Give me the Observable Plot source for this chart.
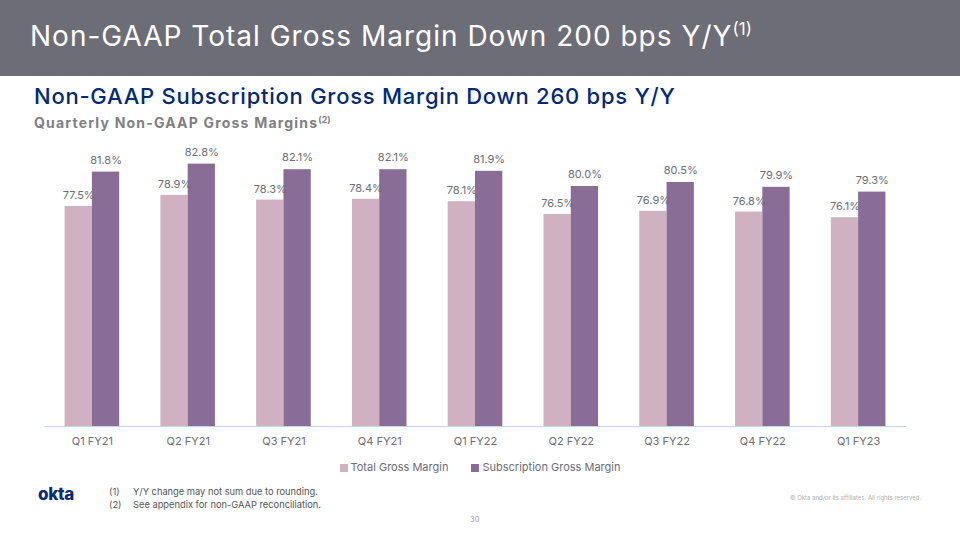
<!DOCTYPE html>
<html>
<head>
<meta charset="utf-8">
<script src="https://cdn.jsdelivr.net/npm/d3@7"></script>
<script src="https://cdn.jsdelivr.net/npm/@observablehq/plot@0.6"></script>
<style>
  html, body { margin: 0; padding: 0; background: #fff; }
  body { width: 960px; height: 540px; position: relative; overflow: hidden; font-family: "Inter", "Noto Sans", sans-serif; }
  .hdr { position: absolute; left: 0; top: 0; width: 960px; height: 76px; background: #6d6d78; }
  .title { position: absolute; left: 30px; top: 19px; color: #fff; font-size: 28px; font-weight: 400; white-space: nowrap; letter-spacing: 1px; }
  .title sup { font-size: 17px; vertical-align: 0; position: relative; top: -11px; letter-spacing: 0; }
  .sub { position: absolute; left: 34px; top: 83px; color: #00297a; font-size: 22px; font-weight: 500; white-space: nowrap; letter-spacing: 0.75px; }
  .sub2 { position: absolute; left: 34px; top: 114px; color: #808083; font-size: 14px; font-weight: 700; white-space: nowrap; letter-spacing: 1.2px; }
  .sub2 sup { font-size: 9px; vertical-align: 0; position: relative; top: -5px; letter-spacing: 0; }
  #chart { position: absolute; left: 0; top: 140px; }
  .legend { position: absolute; left: 0; width: 960px; top: 460px; text-align: center; font-size: 11px; color: #6d6d78; white-space: nowrap; }
  .legend span.sw { display: inline-block; width: 8px; height: 8px; margin-right: 3px; vertical-align: -0.5px; }
  .legend .item { margin: 0 10px; }
  .logo { position: absolute; left: 38px; top: 484px; color: #0a2a7a; font-size: 17px; font-weight: 800; letter-spacing: -0.3px; }
  .notes { position: absolute; left: 109px; top: 486px; font-size: 9.3px; color: #555; line-height: 12.8px; }
  .notes .n { display: inline-block; width: 24px; }
  .copy { position: absolute; left: 790px; top: 494px; font-size: 6px; color: #b0b0b0; white-space: nowrap; }
  .page { position: absolute; left: 470px; top: 515px; font-size: 7.5px; color: #a0a0a0; }
</style>
</head>
<body>
<div class="hdr"></div>
<div class="title">Non-GAAP Total Gross Margin Down 200 bps Y/Y<sup>(1)</sup></div>
<div class="sub">Non-GAAP Subscription Gross Margin Down 260 bps Y/Y</div>
<div class="sub2">Quarterly Non-GAAP Gross Margins<sup>(2)</sup></div>
<div id="chart"></div>
<div class="legend">
  <span class="item"><span class="sw" style="background:#d0b1c2"></span>Total Gross Margin</span>
  <span class="item"><span class="sw" style="background:#8a6d96"></span>Subscription Gross Margin</span>
</div>
<div class="logo">okta</div>
<div class="notes">
  <div><span class="n">(1)</span>Y/Y change may not sum due to rounding.</div>
  <div><span class="n">(2)</span>See appendix for non-GAAP reconciliation.</div>
</div>
<div class="copy">© Okta and/or its affiliates. All rights reserved.</div>
<div class="page">30</div>
<script>
const quarters = ["Q1 FY21","Q2 FY21","Q3 FY21","Q4 FY21","Q1 FY22","Q2 FY22","Q3 FY22","Q4 FY22","Q1 FY23"];
const totalMargin = [77.5, 78.9, 78.3, 78.4, 78.1, 76.5, 76.9, 76.8, 76.1];
const subscriptionMargin = [81.8, 82.8, 82.1, 82.1, 81.9, 80.0, 80.5, 79.9, 79.3];

const totalData = quarters.map((q, i) => ({quarter: q, value: totalMargin[i]}));
const subData = quarters.map((q, i) => ({quarter: q, value: subscriptionMargin[i]}));

const width = 960, marginLeft = 44, marginRight = 54;
const paddingInner = 0.43, paddingOuter = 0.215;
const step = (width - marginLeft - marginRight) / (quarters.length - paddingInner + 2 * paddingOuter);
const half = step * (1 - paddingInner) / 2;

const fmt = d => d.toFixed(1) + "%";

const chart = Plot.plot({
  width,
  height: 316,
  marginLeft,
  marginRight,
  marginTop: 6,
  marginBottom: 30,
  style: {fontFamily: "Inter, 'Noto Sans', sans-serif", fontSize: "11px", color: "#6d6d78", background: "transparent"},
  x: {domain: quarters, paddingInner, paddingOuter, round: false, label: null},
  y: {domain: [50, 85], axis: null},
  marks: [
    Plot.barY(totalData, {x: "quarter", y1: 50, y2: "value", fill: "#d0b1c2", insetRight: half}),
    Plot.barY(subData, {x: "quarter", y1: 50, y2: "value", fill: "#8a6d96", insetLeft: half}),
    Plot.ruleY([50], {stroke: "#c6d6f4", strokeWidth: 1.2}),
    Plot.text(totalData, {x: "quarter", y: "value", text: d => fmt(d.value), dx: -half / 2, dy: -11, fill: "#6d6d78", fontSize: 11}),
    Plot.text(subData, {x: "quarter", y: "value", text: d => fmt(d.value), dx: half / 2, dy: -12, fill: "#6d6d78", fontSize: 11}),
    Plot.axisX({tickSize: 0, tickPadding: 11, fontSize: 11, fill: "#6d6d78", label: null})
  ]
});
document.getElementById("chart").appendChild(chart);
</script>
</body>
</html>
